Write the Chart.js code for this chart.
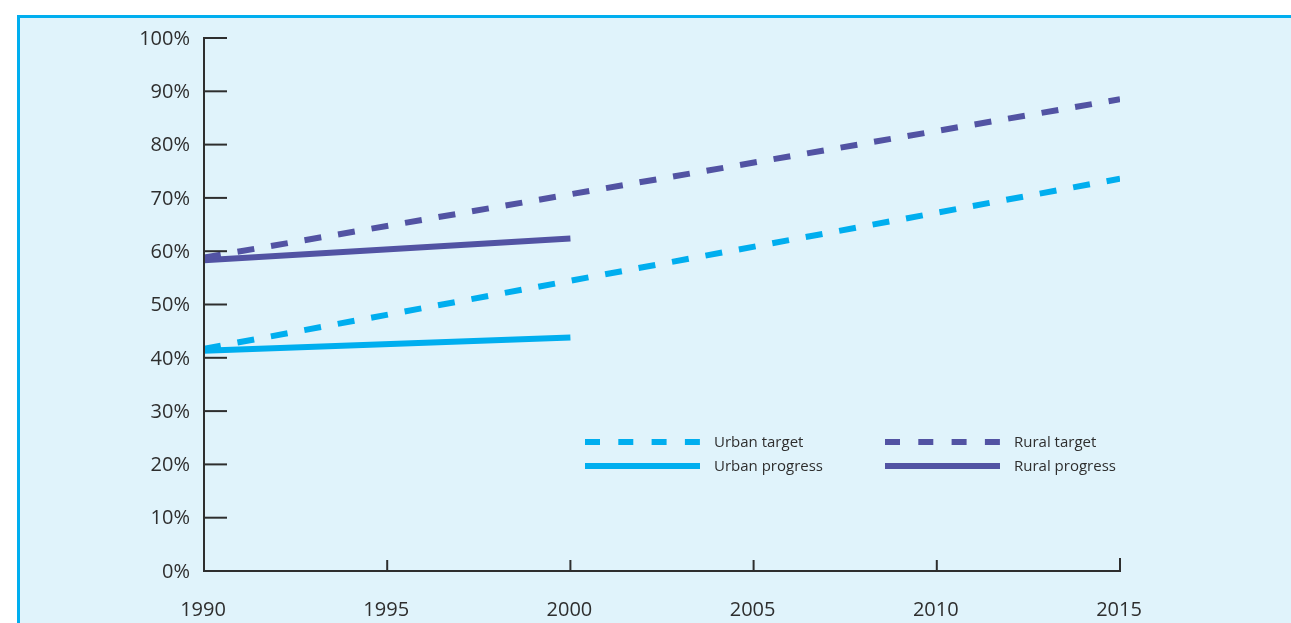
<!DOCTYPE html>
<html>
<head>
<meta charset="utf-8">
<script src="https://cdn.jsdelivr.net/npm/chart.js@4/dist/chart.umd.min.js"></script>
<style>
  html, body { margin: 0; padding: 0; background: #ffffff; }
  #wrap { width: 1291px; height: 623px; position: relative; }
</style>
</head>
<body>
<div id="wrap"><canvas id="chart" width="1291" height="623"></canvas></div>
<script>
// Years along the horizontal axis
const years = [1990, 1995, 2000, 2005, 2010, 2015];
// Percentage ticks on the vertical axis
const percentTicks = [0, 10, 20, 30, 40, 50, 60, 70, 80, 90, 100];

// Series (percent of population)
const urbanTargetYears = [1990, 2015];
const urbanTarget = [41.7, 73.6];
const ruralTargetYears = [1990, 2015];
const ruralTarget = [58.8, 88.5];
const urbanProgressYears = [1990, 2000];
const urbanProgress = [41.3, 43.8];
const ruralProgressYears = [1990, 2000];
const ruralProgress = [58.3, 62.4];

const URBAN = '#00aeef';
const RURAL = '#5253a3';
const INK = '#2e2e2e';
const FONT = '"Open Sans", "Noto Sans", sans-serif';

function pts(xs, ys) { return xs.map((x, i) => ({ x: x, y: ys[i] })); }

// Panel background, axes, tick marks, tick labels and the legend
const framePlugin = {
  id: 'frame',
  beforeDraw(chart) {
    const ctx = chart.ctx;
    ctx.save();
    ctx.fillStyle = '#ffffff';
    ctx.fillRect(0, 0, chart.width, chart.height);
    ctx.fillStyle = '#e0f3fb';
    ctx.fillRect(17, 15, chart.width - 17, chart.height - 15);
    ctx.fillStyle = URBAN;
    ctx.fillRect(17, 15, chart.width - 17, 3);
    ctx.fillRect(17, 15, 3, chart.height - 15);
    ctx.restore();
  },
  afterDatasetsDraw(chart) {
    const ctx = chart.ctx;
    const xs = chart.scales.x, ys = chart.scales.y;
    const x0 = xs.getPixelForValue(years[0]);
    const y0 = ys.getPixelForValue(0);
    ctx.save();
    ctx.strokeStyle = INK;
    ctx.lineWidth = 2;
    ctx.lineCap = 'butt';
    // axis lines
    ctx.beginPath();
    ctx.moveTo(x0, ys.getPixelForValue(100));
    ctx.lineTo(x0, y0);
    ctx.lineTo(xs.getPixelForValue(years[years.length - 1]), y0);
    ctx.stroke();
    // y ticks pointing into the plot
    percentTicks.forEach(v => {
      const y = ys.getPixelForValue(v);
      ctx.beginPath();
      ctx.moveTo(x0 - 1, y);
      ctx.lineTo(x0 + 23, y);
      ctx.stroke();
    });
    // x ticks pointing up
    years.slice(1).forEach((yr, i) => {
      const x = xs.getPixelForValue(yr);
      const len = i === years.length - 2 ? 13 : 11;
      ctx.beginPath();
      ctx.moveTo(x, y0 + 1);
      ctx.lineTo(x, y0 - len);
      ctx.stroke();
    });
    // tick labels
    ctx.fillStyle = INK;
    ctx.font = '20px ' + FONT;
    ctx.textAlign = 'right';
    ctx.textBaseline = 'middle';
    percentTicks.forEach(v => {
      ctx.fillText(v + '%', 190, ys.getPixelForValue(v) + 1);
    });
    ctx.textAlign = 'center';
    years.forEach(yr => {
      ctx.fillText(String(yr), xs.getPixelForValue(yr) - 1, 610);
    });
    // legend
    ctx.font = '15px ' + FONT;
    ctx.textAlign = 'left';
    const items = [
      { ds: 0, x: 585, y: 442 },
      { ds: 1, x: 885, y: 442 },
      { ds: 2, x: 585, y: 466 },
      { ds: 3, x: 885, y: 466 }
    ];
    items.forEach(it => {
      const d = chart.data.datasets[it.ds];
      ctx.strokeStyle = d.borderColor;
      ctx.lineWidth = 6;
      ctx.setLineDash(d.borderDash && d.borderDash.length ? [15, 18.3] : []);
      ctx.beginPath();
      ctx.moveTo(it.x, it.y);
      ctx.lineTo(it.x + 115, it.y);
      ctx.stroke();
      ctx.setLineDash([]);
      ctx.fillStyle = INK;
      ctx.fillText(d.label, it.x + 129, it.y + 1);
    });
    ctx.restore();
  }
};

new Chart(document.getElementById('chart'), {
  type: 'line',
  data: {
    datasets: [
      { label: 'Urban target', data: pts(urbanTargetYears, urbanTarget), borderColor: URBAN, borderDash: [17, 17] },
      { label: 'Rural target', data: pts(ruralTargetYears, ruralTarget), borderColor: RURAL, borderDash: [17, 17] },
      { label: 'Urban progress', data: pts(urbanProgressYears, urbanProgress), borderColor: URBAN, borderDash: [] },
      { label: 'Rural progress', data: pts(ruralProgressYears, ruralProgress), borderColor: RURAL, borderDash: [] }
    ]
  },
  options: {
    responsive: false,
    animation: false,
    devicePixelRatio: 1,
    layout: { padding: { left: 204, right: 171, top: 38, bottom: 52 } },
    elements: {
      line: { borderWidth: 6, tension: 0, borderCapStyle: 'butt', fill: false },
      point: { radius: 0, hoverRadius: 0 }
    },
    plugins: { legend: { display: false }, tooltip: { enabled: false } },
    scales: {
      x: { type: 'linear', min: years[0], max: years[years.length - 1], display: false },
      y: { type: 'linear', min: 0, max: 100, display: false }
    }
  },
  plugins: [framePlugin]
});
</script>
</body>
</html>
